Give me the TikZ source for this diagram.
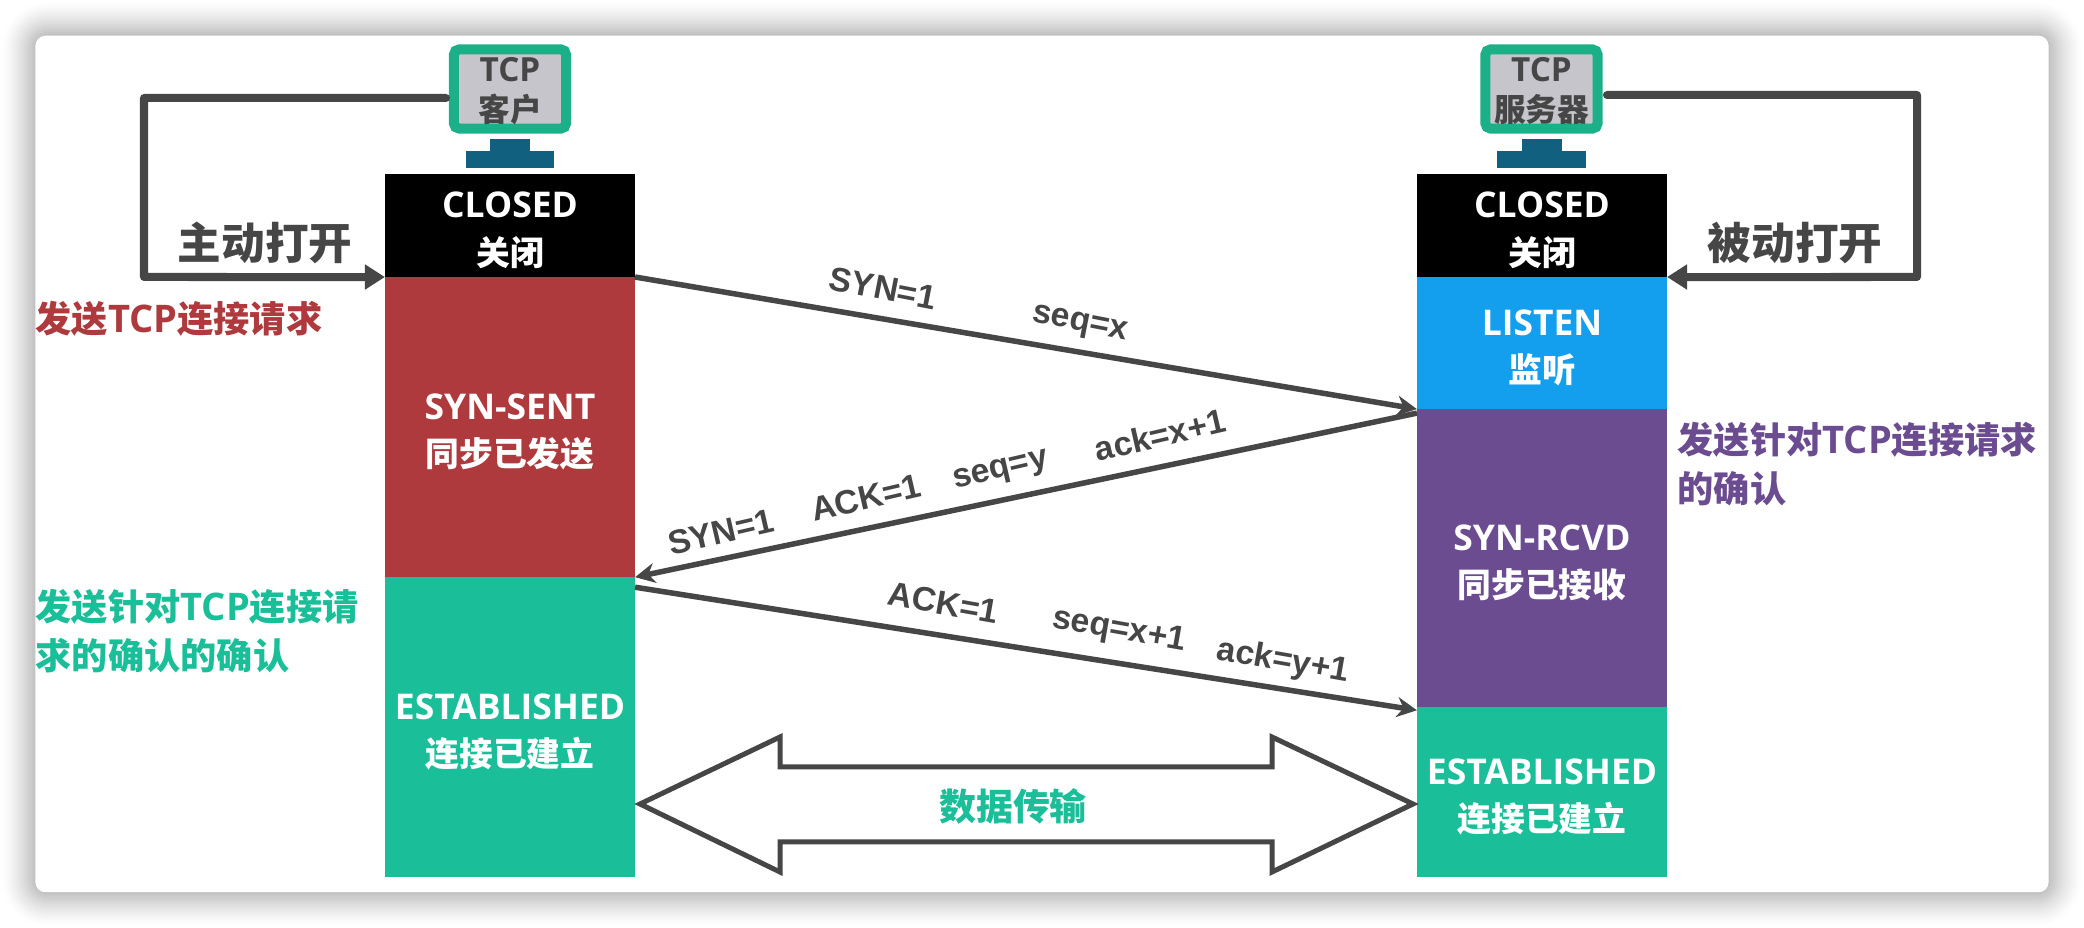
\documentclass[tikz,border=0pt]{standalone}
\usepackage{fontspec}
\setmainfont{Noto Sans CJK SC}
\newfontfamily\enfont[Scale=1.05]{Open Sans}
\newfontfamily\arialfont{Liberation Sans}
\usetikzlibrary{arrows.meta, positioning, calc}
\definecolor{closedblack}{RGB}{0, 0, 0}
\definecolor{sentred}{RGB}{174, 58, 62}
\definecolor{estgreen}{RGB}{26, 191, 153}
\definecolor{listenblue}{RGB}{20, 159, 238}
\definecolor{rcvdpurple}{RGB}{108, 76, 145}
\definecolor{pcgreen}{RGB}{27, 176, 136}
\definecolor{pcgray}{RGB}{197, 197, 203}
\definecolor{standblue}{RGB}{17, 96, 127}
\definecolor{darkgray}{RGB}{70, 70, 70}
\newcommand{\en}[1]{{\enfont #1}}
\newcommand{\statelabel}[2]{\rule{0pt}{10pt}\en{#1}\\#2}

\begin{document}
\begin{tikzpicture}[
    x=0.01cm, y=-0.01cm,
    state/.style={rectangle, minimum width=2.5cm, inner sep=0pt, outer sep=0pt, align=center, text=white, font=\bfseries\fontsize{9.6}{13.5}\selectfont},
    pc/.style={rectangle, rounded corners=0.05cm, minimum width=1.12cm, minimum height=0.79cm, inner sep=0pt, align=center, draw=pcgreen, line width=0.1cm, fill=pcgray, text=darkgray, font=\bfseries\fontsize{9}{12}\selectfont},
    neck/.style={rectangle, minimum width=0.4cm, minimum height=0.12cm, inner sep=0pt, outer sep=0pt, fill=standblue},
    base/.style={rectangle, minimum width=0.88cm, minimum height=0.17cm, inner sep=0pt, outer sep=0pt, fill=standblue},
    openarrow/.style={line width=0.08cm, draw=darkgray, line cap=round, line join=round, -{Triangle[length=0.2cm,width=0.24cm]}},
    msgarrow/.style={line width=0.055cm, draw=darkgray, -{Stealth[length=0.2cm,width=0.2cm]}},
    msg/.style={inner sep=0pt, text=darkgray, font=\arialfont\bfseries\fontsize{9.6}{12}\selectfont},
    opentext/.style={inner sep=0pt, text=darkgray, font=\bfseries\fontsize{12.4}{14}\selectfont},
    side/.style={inner sep=0pt, anchor=west, align=left, font=\bfseries\fontsize{10.3}{14}\selectfont}
]

% Card and shadow
\useasboundingbox (0,0) rectangle (2084,928);
\fill [white] (0,0) rectangle (2084,928);
\foreach \r in {36,34,...,0} {
    \pgfmathsetmacro{\shade}{26*(1-\r/36)^1.4}
    \pgfmathsetmacro{\bend}{(\r+12)*0.01}
    \fill [black!\shade, rounded corners=\bend cm] (36-\r,36-\r) rectangle (2048+\r,892+\r);
}
\node (card) [rectangle, rounded corners=0.1cm, fill=white, minimum width=20.12cm, minimum height=8.56cm, inner sep=0pt] at (1042,464) {};

% TCP client
\node (clientPc) [pc] at (510,89) {\rule{0pt}{8pt}\en{TCP}\\[-0.5pt]客户};
\node (clientNeck) [neck] at (510,145) {};
\node (clientBase) [base, below=0pt of clientNeck] {};

% TCP server
\node (serverPc) [pc] at (1541.5,89) {\rule{0pt}{8pt}\en{TCP}\\[-0.5pt]服务器};
\node (serverNeck) [neck] at (1541.5,145) {};
\node (serverBase) [base, below=0pt of serverNeck] {};

% Client states
\node (closedL) [state, fill=closedblack, minimum height=1.03cm] at (510,225.5) {\statelabel{CLOSED}{关闭}};
\node (sentL) [state, fill=sentred, minimum height=3cm, below=0pt of closedL] {\statelabel{SYN-SENT}{同步已发送}};
\node (estL) [state, fill=estgreen, minimum height=3cm, below=0pt of sentL] {\statelabel{ESTABLISHED}{连接已建立}};

% Server states
\node (closedR) [state, fill=closedblack, minimum height=1.03cm] at (1542,225.5) {\statelabel{CLOSED}{关闭}};
\node (listenR) [state, fill=listenblue, minimum height=1.32cm, below=0pt of closedR] {\statelabel{LISTEN}{监听}};
\node (rcvdR) [state, fill=rcvdpurple, minimum height=2.98cm, below=0pt of listenR] {\statelabel{SYN-RCVD}{同步已接收}};
\node (estR) [state, fill=estgreen, minimum height=1.7cm, below=0pt of rcvdR] {\statelabel{ESTABLISHED}{连接已建立}};

% Open arrows
\coordinate (clientStart) at (446,98);
\coordinate (clientCorner) at (144,277);
\coordinate (serverStart) at (1607,95);
\coordinate (serverCorner) at (1917,277);
\draw [openarrow] (clientStart) -| (clientCorner) -- (closedL.south west);
\draw [openarrow] (serverStart) -| (serverCorner) -- (closedR.south east);
\node (activeOpen) [opentext] at (265,243) {主动打开};
\node (passiveOpen) [opentext] at (1795,243) {被动打开};

% Handshake arrows
\draw [msgarrow] (closedL.south east) -- (listenR.south west);
\draw [msgarrow] ([yshift=-0.04cm]rcvdR.north west) -- (sentL.south east);
\draw [msgarrow] ([yshift=-0.1cm]estL.north east) -- ([yshift=-0.03cm]estR.north west);

% Handshake labels
\node (syn1) [msg, rotate=-11] at (883,288) {SYN=1};
\node (seq1) [msg, rotate=-11] at (1080,325) {seq=x};
\node (syn2) [msg, rotate=13] at (721,532) {SYN=1};
\node (ack2) [msg, rotate=13] at (866,498) {ACK=1};
\node (seq2) [msg, rotate=13] at (1001,472) {seq=y};
\node (ackn2) [msg, rotate=13] at (1160,435) {ack=x+1};
\node (ack3) [msg, rotate=-10] at (943,603) {ACK=1};
\node (seq3) [msg, rotate=-10] at (1119,631) {seq=x+1};
\node (ackn3) [msg, rotate=-10] at (1283,662) {ack=y+1};

% Data transfer
\coordinate (transferL) at (640,804);
\coordinate (transferR) at (1413,804);
\draw [draw=darkgray, line width=0.05cm, fill=white] (transferL) -- (780,737) -- (780,767) -- (1272,767) -- (1272,737) -- (transferR) -- (1272,872) -- (1272,842) -- (780,842) -- (780,872) -- cycle;
\node (transferText) [text=estgreen, inner sep=0pt, font=\bfseries\fontsize{10.5}{13}\selectfont] at (1013,806) {数据传输};

% Side notes
\node (noteSent) [side, text=sentred] at (35,319) {发送\en{TCP}连接请求};
\node (noteAck) [side, text=estgreen] at (35,631) {发送针对\en{TCP}连接请\\求的确认的确认};
\node (noteRcvd) [side, text=rcvdpurple] at (1677,464) {发送针对\en{TCP}连接请求\\的确认};

\end{tikzpicture}
\end{document}
